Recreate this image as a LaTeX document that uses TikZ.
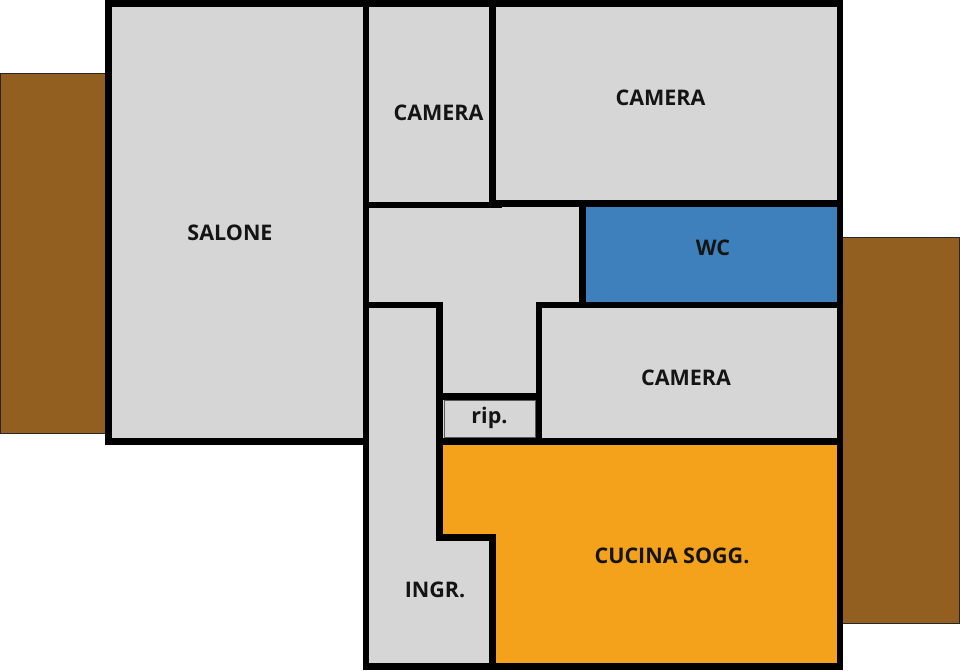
\documentclass[tikz,border=0pt]{standalone}
\usepackage{fontspec}
\setmainfont{Open Sans}
\definecolor{roomgray}{HTML}{D6D6D6}
\definecolor{roomblue}{HTML}{3D80BC}
\definecolor{roomorange}{HTML}{F4A11B}
\definecolor{roombrown}{HTML}{935F20}
\tikzset{
  wall/.style={draw=black,line width=6.7pt,line cap=butt,line join=miter},
  balcony/.style={fill=roombrown,draw=black!85,line width=1pt},
  roomlabel/.style={text=black!92,font=\bfseries\fontsize{21.5}{25}\selectfont,inner sep=0pt,anchor=center}
}
\begin{document}
\begin{tikzpicture}[x=1pt,y=-1pt]
\useasboundingbox (0,0) rectangle (960,670);
% balconies
\fill[white] (0,0) rectangle (960,670);
\draw[balcony] (0.5,73) rectangle (106,433);
\draw[balcony] (842,237) rectangle (959,623);
% floors
\fill[roomgray] (108,3) rectangle (366,441);
\fill[roomgray] (366,3) rectangle (840,205);
\fill[roomgray] (366,205) -- (582,205) -- (582,305) -- (539,305) -- (539,441) -- (439.5,441) -- (439.5,305) -- (366,305) -- cycle;
\fill[roomgray] (366,305) -- (439.5,305) -- (439.5,538) -- (492.7,538) -- (492.7,666) -- (366,666) -- cycle;
\fill[roomgray] (539,305) rectangle (840,441);
\fill[roomblue] (582,203) rectangle (840,305);
\fill[roomorange] (439.5,441) -- (840,441) -- (840,666) -- (492.7,666) -- (492.7,538) -- (439.5,538) -- cycle;
% rip. thin outline
\draw[black!65,line width=1pt] (444,400) rectangle (535.5,437.5);
% walls
\draw[wall] (840,666) -- (840,3.3) -- (105,3.3);
\draw[wall] (108.5,0) -- (108.5,441.5) -- (366,441.5);
\draw[wall] (366,0) -- (366,670);
\draw[wall] (362.7,666.4) -- (843.3,666.4);
\draw[wall] (492.7,0) -- (492.7,205);
\draw[wall] (366,205) -- (502,205);
\draw[wall] (489,203.4) -- (840,203.4);
\draw[wall] (582.3,203.4) -- (582.3,305);
\draw[wall] (366,305) -- (439.5,305) -- (439.5,537.7) -- (492.7,537.7) -- (492.7,666);
\draw[wall] (539,441) -- (539,305) -- (840,305);
\draw[wall] (439.5,396.7) -- (539,396.7);
\draw[wall] (439.5,441.2) -- (840,441.2);
% labels
\node[roomlabel] (salone) at (230,232.5) {SALONE};
\node[roomlabel] (cam1) at (438.5,112.5) {CAMERA};
\node[roomlabel] (cam2) at (660.5,98) {CAMERA};
\node[roomlabel] (wc) at (713,247.5) {WC};
\node[roomlabel] (cam3) at (686,378) {CAMERA};
\node[roomlabel] (rip) at (489.5,418) {rip.};
\node[roomlabel] (cucina) at (672,555.5) {CUCINA SOGG.};
\node[roomlabel] (ingr) at (435,590) {INGR.};
\end{tikzpicture}
\end{document}
